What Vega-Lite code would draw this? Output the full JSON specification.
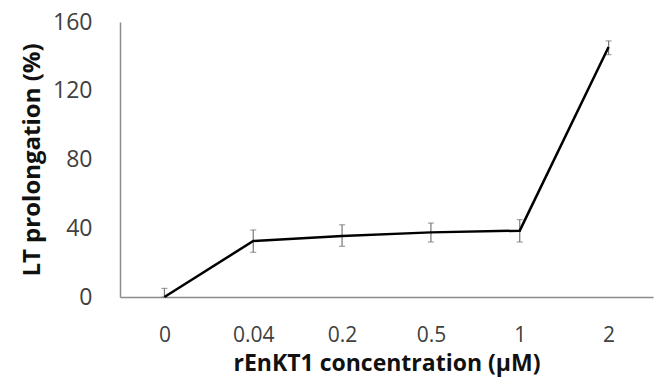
{
  "$schema": "https://vega.github.io/schema/vega-lite/v6.json",
  "autosize": "none",
  "width": 533,
  "height": 275,
  "padding": {"left": 120, "top": 22, "right": 5, "bottom": 81},
  "background": "white",
  "config": {"view": {"stroke": null}, "font": "Open Sans"},
  "data": {"values": [
    {"conc": "0", "mean": 0, "lo": 0, "hi": 5},
    {"conc": "0.04", "mean": 32.6, "lo": 26, "hi": 39},
    {"conc": "0.2", "mean": 35.5, "lo": 29.5, "hi": 42},
    {"conc": "0.5", "mean": 37.6, "lo": 32, "hi": 43},
    {"conc": "1", "mean": 38.6, "lo": 32, "hi": 45},
    {"conc": "2", "mean": 145.5, "lo": 141, "hi": 149}
  ]},
  "encoding": {
    "x": {"field": "conc", "type": "ordinal", "sort": ["0", "0.04", "0.2", "0.5", "1", "2"],
      "scale": {"type": "point", "padding": 0.5},
      "axis": {"title": "rEnKT1 concentration (μM)", "labelAngle": 0, "ticks": false, "grid": false,
        "domainColor": "#8c8c8c", "domainWidth": 1.5, "labelFontSize": 21, "labelColor": "#404040",
        "labelPadding": 27, "titleFontSize": 23, "titleFontWeight": "bold", "titleColor": "#111",
        "titlePadding": 7}}
  },
  "layer": [
    {"mark": {"type": "rule", "color": "#777", "strokeWidth": 1.2},
     "encoding": {"y": {"field": "lo", "type": "quantitative"}, "y2": {"field": "hi"}}},
    {"mark": {"type": "tick", "orient": "horizontal", "color": "#777", "size": 6, "thickness": 1.2},
     "encoding": {"y": {"field": "lo", "type": "quantitative"}}},
    {"mark": {"type": "tick", "orient": "horizontal", "color": "#777", "size": 6, "thickness": 1.2},
     "encoding": {"y": {"field": "hi", "type": "quantitative"}}},
    {"mark": {"type": "line", "color": "#000", "strokeWidth": 2.5},
     "encoding": {"y": {"field": "mean", "type": "quantitative",
       "scale": {"domain": [0, 160]},
       "axis": {"title": "LT prolongation (%)", "values": [0, 40, 80, 120, 160], "ticks": false, "grid": false,
         "domainColor": "#8c8c8c", "domainWidth": 1.5, "labelFontSize": 23, "labelColor": "#404040",
         "labelPadding": 28, "titleFontSize": 24, "titleFontWeight": "bold", "titleColor": "#111",
         "titlePadding": 8}}}}
  ]
}
